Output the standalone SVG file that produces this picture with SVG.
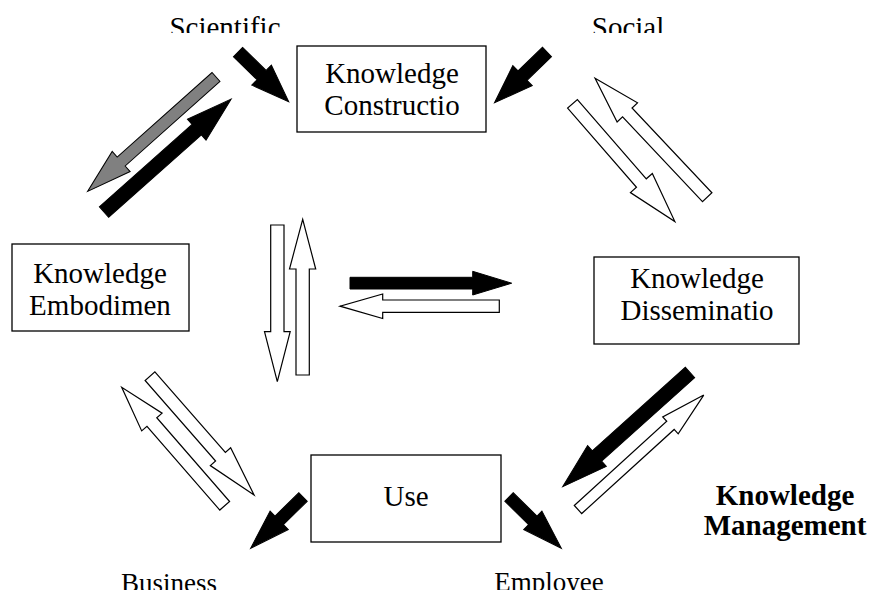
<svg xmlns="http://www.w3.org/2000/svg" width="870" height="590" viewBox="0 0 870 590">
<style>
.box{fill:#fff;stroke:#000;stroke-width:1.3}
.t{font-family:"Liberation Serif","Times New Roman",serif;font-size:29px;fill:#000;text-anchor:middle}
.b{font-weight:bold}
.blk{fill:#000;stroke:#000;stroke-width:1}
.wht{fill:#fff;stroke:#000;stroke-width:1.2}
.gry{fill:#808080;stroke:#000;stroke-width:1}
</style>
<defs>
<clipPath id="topclip"><rect x="0" y="0" width="870" height="33"/></clipPath>
</defs>
<rect width="870" height="590" fill="#fff"/>

<g id="label-scientific" clip-path="url(#topclip)"><text class="t" x="225" y="37">Scientific</text></g>
<g id="label-social" clip-path="url(#topclip)"><text class="t" x="628" y="37">Social</text></g>
<g id="label-business"><text class="t" x="169" y="592" style="font-size:27px">Business</text></g>
<g id="label-employee"><text class="t" x="549" y="591" style="font-size:27px">Employee</text></g>
<g id="label-km"><text class="t b" x="785" y="505">Knowledge</text><text class="t b" x="785" y="535">Management</text></g>

<g id="node-construction">
<rect class="box" x="297" y="46" width="189" height="86"/>
<text class="t" x="392" y="83">Knowledge</text>
<text class="t" x="392" y="115">Constructio</text>
</g>
<g id="node-embodiment">
<rect class="box" x="12" y="244" width="177" height="87"/>
<text class="t" x="100" y="283">Knowledge</text>
<text class="t" x="100" y="315">Embodimen</text>
</g>
<g id="node-dissemination">
<rect class="box" x="594" y="257" width="205" height="87"/>
<text class="t" x="697" y="288">Knowledge</text>
<text class="t" x="697" y="320">Disseminatio</text>
</g>
<g id="node-use">
<rect class="box" x="311" y="455" width="190" height="87"/>
<text class="t" x="406" y="506">Use</text>
</g>

<g id="connectors">
<polygon class="blk" transform="translate(238,52) rotate(44.4)" points="0,-6.5 33,-6.5 33,-14 71,0 33,14 33,6.5 0,6.5"/>
<polygon class="blk" transform="translate(547,52) rotate(136)" points="0,-6.5 34,-6.5 34,-14 73,0 34,14 34,6.5 0,6.5"/>
<polygon class="gry" transform="translate(216,77) rotate(138.3)" points="0,-6 127,-6 127,-13.5 172,0 127,13.5 127,6 0,6"/>
<polygon class="blk" transform="translate(104,212) rotate(-41.6)" points="0,-7 124,-7 124,-14 170,0 124,14 124,7 0,7"/>
<polygon class="wht" transform="translate(572.5,103.8) rotate(49)" points="0,-6.5 105,-6.5 105,-14.5 156,0 105,14.5 105,6.5 0,6.5"/>
<polygon class="wht" transform="translate(707.2,197.2) rotate(-133.3)" points="0,-6.5 116.5,-6.5 116.5,-14 163.5,0 116.5,14 116.5,6.5 0,6.5"/>
<polygon class="wht" points="270.7,225 284,225 284,331.7 290.2,331.7 277.3,381.7 264.5,331.7 270.7,331.7"/>
<polygon class="wht" points="296,375 309.3,375 309.3,269 315.7,269 302.7,219.3 289.5,269 296,269"/>
<polygon class="blk" points="350,277.3 472.7,277.3 472.7,271.3 511.7,283.2 472.7,295 472.7,289 350,289"/>
<polygon class="wht" points="499.3,300 382.7,300 382.7,294 340,306.2 382.7,318.5 382.7,312.3 499.3,312.3"/>
<polygon class="wht" transform="translate(224.7,505.8) rotate(-131)" points="0,-6.5 111,-6.5 111,-13.5 157,0 111,13.5 111,6.5 0,6.5"/>
<polygon class="wht" transform="translate(150,376.2) rotate(48.8)" points="0,-6.5 107,-6.5 107,-13.5 158,0 107,13.5 107,6.5 0,6.5"/>
<polygon class="blk" transform="translate(303,497) rotate(135.6)" points="0,-6 33.3,-6 33.3,-13 73.3,0 33.3,13 33.3,6 0,6"/>
<polygon class="blk" transform="translate(509,497) rotate(44.4)" points="0,-6 33.3,-6 33.3,-13 73.3,0 33.3,13 33.3,6 0,6"/>
<polygon class="blk" transform="translate(690,372.5) rotate(138.1)" points="0,-7 125,-7 125,-14 171,0 125,14 125,7 0,7"/>
<polygon class="wht" transform="translate(578,509.5) rotate(-42.3)" points="0,-5.5 125,-5.5 125,-11.5 170,0 125,11.5 125,5.5 0,5.5"/>
</g>
</svg>
